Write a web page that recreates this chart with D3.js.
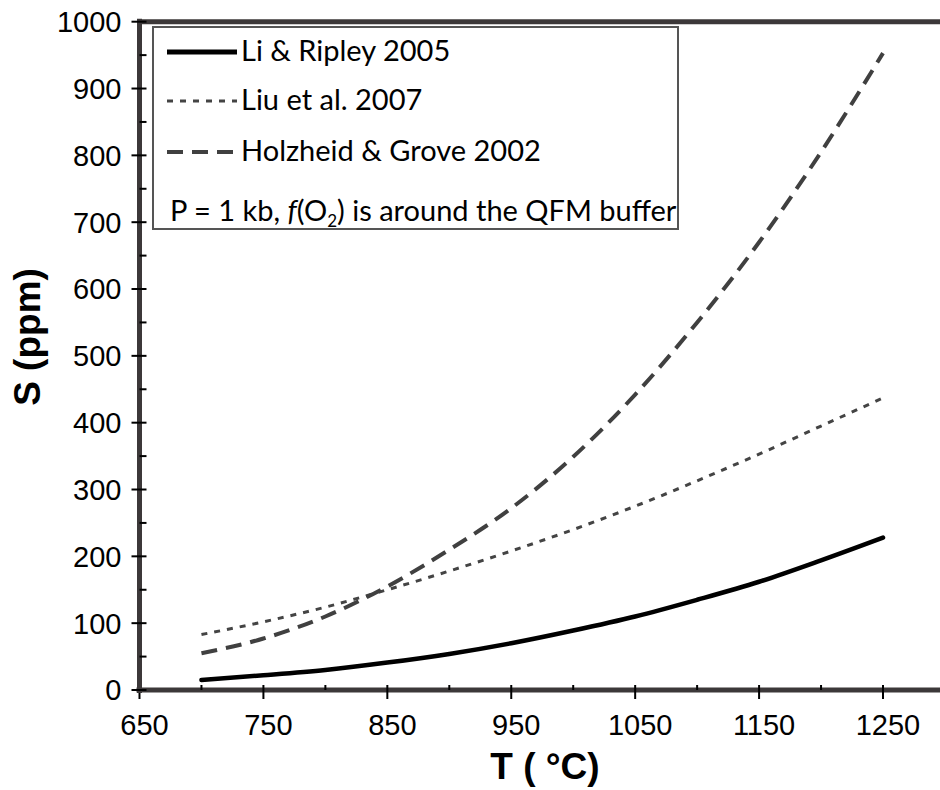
<!DOCTYPE html>
<meta charset="UTF-8">
<script src="https://d3js.org/d3.v7.min.js"></script>
<style>
  body { margin: 0; background: #fff; }
  svg { display: block; }
</style>
<div id="my_dataviz"></div>
<script>

// data (S in ppm against T in deg C)
var temps = [700, 750, 800, 850, 900, 950, 1000, 1050, 1100, 1150, 1200, 1250]
var liRipley = [15, 22, 30, 41, 54, 70, 89, 110, 135, 162, 194, 228]
var liu = [83, 102, 124, 150, 178, 208, 240, 275, 313, 353, 395, 437]
var holzheid = [55, 77, 110, 155, 210, 272, 349, 442, 550, 670, 805, 953]

var seriesNames = ["Li & Ripley 2005", "Liu et al. 2007", "Holzheid & Grove 2002"]
var xMajor = [650, 750, 850, 950, 1050, 1150, 1250]
var xMinor = [700, 800, 900, 1000, 1100, 1200]
var yMajor = [0, 100, 200, 300, 400, 500, 600, 700, 800, 900, 1000]
var yMinor = [50, 150, 250, 350, 450, 550, 650, 750, 850, 950]

var width = 940
var height = 790

var svg = d3.select("#my_dataviz")
    .append("svg")
        .attr("width", width)
        .attr("height", height)

var x = d3.scaleLinear().domain([650, 1296]).range([139.5, 940])
var y = d3.scaleLinear().domain([0, 1000]).range([690, 21.7])

var axisColor = "#3c3839"
var tickFont = "'Liberation Sans', Arial, sans-serif"

// line styles for the three series
var styles = [
    {color: "#000", width: 4.5, dash: null, cap: "round"},
    {color: "#444", width: 3, dash: "6,7", cap: "butt"},
    {color: "#404040", width: 4, dash: "16,9", cap: "butt"}
]
var allSeries = [liRipley, liu, holzheid]

// top frame line
svg.append("line")
    .attr("x1", x(650)).attr("x2", width)
    .attr("y1", y(1000)).attr("y2", y(1000))
    .attr("stroke", axisColor).attr("stroke-width", 5)

// curves
var line = d3.line()
    .x(function(d){ return x(d.t) })
    .y(function(d){ return y(d.s) })
    .curve(d3.curveMonotoneX)

allSeries.forEach(function(vals, i){
    var pts = temps.map(function(t, j){ return {t: t, s: vals[j]} })
    svg.append("path")
        .datum(pts)
        .attr("d", line)
        .attr("fill", "none")
        .attr("stroke", styles[i].color)
        .attr("stroke-width", styles[i].width)
        .attr("stroke-dasharray", styles[i].dash)
        .attr("stroke-linecap", styles[i].cap)
})

// x axis: line, major ticks crossing, minor ticks inside
var gx = svg.append("g").attr("transform", "translate(0," + y(0) + ")")
gx.append("line")
    .attr("x1", x(650) - 3).attr("x2", width)
    .attr("stroke", axisColor).attr("stroke-width", 5)
gx.selectAll(".xmaj").data(xMajor).enter().append("line")
    .attr("x1", function(d){ return x(d) }).attr("x2", function(d){ return x(d) })
    .attr("y1", -5).attr("y2", 9)
    .attr("stroke", "#000").attr("stroke-width", 2)
gx.selectAll(".xmin").data(xMinor).enter().append("line")
    .attr("x1", function(d){ return x(d) }).attr("x2", function(d){ return x(d) })
    .attr("y1", -5).attr("y2", 0)
    .attr("stroke", "#000").attr("stroke-width", 2)
gx.selectAll("text").data(xMajor).enter().append("text")
    .attr("x", function(d){ return x(d) + 5 })
    .attr("y", 45)
    .attr("text-anchor", "middle")
    .style("font-family", tickFont)
    .style("font-size", "29px")
    .text(function(d){ return d })

// y axis
var gy = svg.append("g").attr("transform", "translate(" + x(650) + ",0)")
gy.append("line")
    .attr("y1", y(1000) - 3).attr("y2", y(0) + 3)
    .attr("stroke", axisColor).attr("stroke-width", 5)
gy.selectAll(".ymaj").data(yMajor).enter().append("line")
    .attr("x1", -8).attr("x2", 7)
    .attr("y1", function(d){ return y(d) }).attr("y2", function(d){ return y(d) })
    .attr("stroke", "#000").attr("stroke-width", 2)
gy.selectAll(".ymin").data(yMinor).enter().append("line")
    .attr("x1", 0).attr("x2", 7)
    .attr("y1", function(d){ return y(d) }).attr("y2", function(d){ return y(d) })
    .attr("stroke", "#000").attr("stroke-width", 2)
gy.selectAll("text").data(yMajor).enter().append("text")
    .attr("x", -18)
    .attr("y", function(d){ return y(d) })
    .attr("dy", "0.36em")
    .attr("text-anchor", "end")
    .style("font-family", tickFont)
    .style("font-size", "29px")
    .text(function(d){ return d })

// axis titles
svg.append("text")
    .attr("x", 545).attr("y", 779)
    .attr("text-anchor", "middle")
    .style("font-family", tickFont)
    .style("font-size", "37px")
    .style("font-weight", "bold")
    .text("T ( °C)")

svg.append("text")
    .attr("transform", "translate(40,337) rotate(-90)")
    .attr("text-anchor", "middle")
    .style("font-family", tickFont)
    .style("font-size", "37px")
    .style("font-weight", "bold")
    .text("S (ppm)")

// legend box
var legendFont = "Lato, 'Open Sans', sans-serif"
var legend = svg.append("g")
legend.append("rect")
    .attr("x", 153).attr("y", 27)
    .attr("width", 525).attr("height", 202)
    .attr("fill", "#fff")
    .attr("stroke", "#555").attr("stroke-width", 2)

var rowY = [52, 101, 152]
seriesNames.forEach(function(name, i){
    legend.append("line")
        .attr("x1", 167).attr("x2", 237)
        .attr("y1", rowY[i]).attr("y2", rowY[i])
        .attr("stroke", styles[i].color)
        .attr("stroke-width", i == 0 ? 5 : styles[i].width)
        .attr("stroke-dasharray", styles[i].dash)
    legend.append("text")
        .attr("x", 241).attr("y", rowY[i] + 9)
        .style("font-family", legendFont)
        .style("font-size", "29px")
        .text(name)
})

var note = legend.append("text")
    .attr("x", 170).attr("y", 221)
    .style("font-family", legendFont)
    .style("font-size", "29px")
note.append("tspan").text("P = 1 kb, ")
note.append("tspan").style("font-style", "italic").text("f")
note.append("tspan").text("(O")
note.append("tspan").attr("dy", 6).style("font-size", "17px").text("2")
note.append("tspan").attr("dy", -6).text(") is around the QFM buffer")

</script>
